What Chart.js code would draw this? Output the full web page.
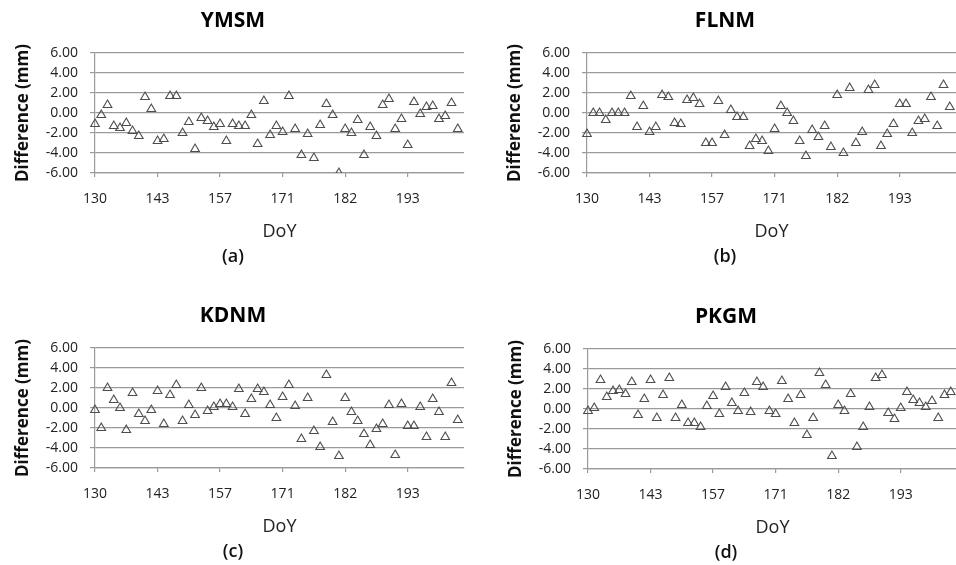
<!DOCTYPE html>
<html>
<head>
<meta charset="utf-8">
<script src="https://cdn.jsdelivr.net/npm/chart.js@4.4.1/dist/chart.umd.min.js"></script>
<style>
	html, body {margin: 0; padding: 0; background: #fff; overflow: hidden;}
	#wrap {position: relative; width: 956px; height: 565px; overflow: hidden;}
	#wrap canvas {position: absolute;}
</style>
</head>
<body>
<div id="wrap">
	<canvas id="chart-a" width="478" height="280" style="left: 0px; top: 0px;"></canvas>
	<canvas id="chart-b" width="478" height="280" style="left: 492px; top: 0px;"></canvas>
	<canvas id="chart-c" width="478" height="280" style="left: 0px; top: 295px;"></canvas>
	<canvas id="chart-d" width="478" height="280" style="left: 493px; top: 296px;"></canvas>
</div>
<script>
// Day of year for each category (days without data are skipped)
const doy = [
	130, 131, 132, 134, 135, 137, 138, 140, 141, 142,
	143, 144, 146, 147, 149, 150, 152, 153, 155, 156,
	157, 158, 160, 161, 163, 164, 166, 167, 169, 170,
	171, 172, 173, 174, 175, 176, 177, 178, 179, 181,
	182, 183, 184, 185, 186, 187, 188, 189, 190, 192,
	193, 194, 195, 196, 197, 198, 199, 200, 201, 202
];
const labeled_days = [130, 143, 157, 171, 182, 193];
const y_ticks = [-6, -4, -2, 0, 2, 4, 6];

// Differences (mm), one array per station
const ymsm = [
	-1.1, -0.2, 0.8, -1.3, -1.5, -1.0, -1.8, -2.3, 1.6, 0.4,
	-2.8, -2.6, 1.7, 1.7, -2.0, -0.9, -3.6, -0.5, -0.8, -1.4,
	-1.1, -2.8, -1.1, -1.3, -1.3, -0.2, -3.1, 1.2, -2.2, -1.3,
	-1.9, 1.7, -1.6, -4.2, -2.1, -4.5, -1.2, 0.9, -0.2, -6.0,
	-1.6, -2.0, -0.7, -4.2, -1.4, -2.3, 0.8, 1.4, -1.6, -0.6,
	-3.2, 1.1, -0.1, 0.6, 0.7, -0.6, -0.3, 1.0, -1.6
];
const flnm = [
	-2.1, 0.0, 0.0, -0.7, 0.0, 0.0, 0.0, 1.7, -1.4, 0.7,
	-1.9, -1.4, 1.8, 1.6, -1.0, -1.1, 1.3, 1.5, 0.9, -3.0,
	-3.0, 1.2, -2.2, 0.3, -0.4, -0.4, -3.3, -2.6, -2.8, -3.8,
	-1.6, 0.7, 0.0, -0.8, -2.8, -4.3, -1.7, -2.4, -1.3, -3.4,
	1.8, -4.0, 2.5, -3.0, -1.9, 2.3, 2.8, -3.3, -2.1, -1.1,
	0.9, 0.9, -2.0, -0.8, -0.6, 1.6, -1.3, 2.8, 0.6
];
const kdnm = [
	-0.2, -2.0, 2.0, 0.8, 0.0, -2.2, 1.5, -0.6, -1.3, -0.2,
	1.7, -1.6, 1.3, 2.3, -1.3, 0.3, -0.7, 2.0, -0.3, 0.1,
	0.4, 0.4, 0.1, 1.9, -0.6, 0.9, 1.9, 1.6, 0.3, -1.0,
	1.1, 2.3, 0.2, -3.1, 1.0, -2.3, -3.9, 3.3, -1.4, -4.8,
	1.0, -0.4, -1.3, -2.6, -3.7, -2.1, -1.6, 0.3, -4.7, 0.4,
	-1.8, -1.8, 0.1, -2.9, 0.9, -0.4, -2.9, 2.5, -1.2
];
const pkgm = [
	-0.2, 0.1, 2.9, 1.2, 1.8, 1.9, 1.5, 2.7, -0.6, 1.0,
	2.9, -0.9, 1.4, 3.1, -0.9, 0.4, -1.4, -1.4, -1.8, 0.3,
	1.3, -0.5, 2.2, 0.6, -0.2, 1.6, -0.3, 2.7, 2.2, -0.2,
	-0.5, 2.8, 1.0, -1.4, 1.4, -2.6, -0.9, 3.6, 2.4, -4.7,
	0.4, -0.2, 1.5, -3.8, -1.8, 0.2, 3.1, 3.4, -0.4, -1.0,
	0.1, 1.7, 0.9, 0.6, 0.2, 0.8, -0.9, 1.4, 1.7
];

const font_family = '"Open Sans", "Noto Sans", sans-serif';
const grid_color = '#9a9a9a';
const marker_color = '#4d4d4d';

function showChart (canvas_id, station, values, letter) {
	const ctx = document.getElementById (canvas_id);

	return new Chart (ctx, {
		type: 'line',
		data: {
			labels: doy,
			datasets: [{
				label: station,
				data: values,
				showLine: false,
				pointStyle: 'triangle',
				pointRadius: 5,
				pointBorderWidth: 1.1,
				pointBorderColor: marker_color,
				pointBackgroundColor: 'rgba(0, 0, 0, 0)'
			}]
		},
		options: {
			responsive: false,
			animation: false,
			layout: {
				padding: {left: 0, right: 12, top: 0, bottom: 0}
			},
			plugins: {
				legend: {display: false},
				tooltip: {enabled: false},
				title: {
					display: true,
					text: station,
					color: '#000',
					font: {family: font_family, size: 21, weight: 'bold', lineHeight: 1.2},
					padding: {top: 8.4, bottom: 19.4}
				},
				subtitle: {
					display: true,
					position: 'bottom',
					text: `(${letter})`,
					color: '#111',
					font: {family: font_family, size: 18, weight: '600', lineHeight: 1.2},
					padding: {top: 3.4, bottom: 12.2}
				}
			},
			scales: {
				x: {
					type: 'category',
					offset: false,
					afterFit: scale => {scale.height = 69.8;},
					border: {display: true, color: grid_color, width: 1.2},
					grid: {
						drawOnChartArea: false,
						drawTicks: true,
						tickLength: 4,
						lineWidth: 1.2,
						color: c => labeled_days.includes (doy[c.index]) ? grid_color : 'rgba(0, 0, 0, 0)'
					},
					ticks: {
						autoSkip: false,
						maxRotation: 0,
						padding: 14,
						color: '#222',
						font: {family: font_family, size: 14},
						callback: (value, index) => labeled_days.includes (doy[index]) ? `${doy[index]}` : ''
					},
					title: {
						display: true,
						text: 'DoY',
						color: '#222',
						font: {family: font_family, size: 18, lineHeight: 1.2},
						padding: {top: 10, bottom: 0}
					}
				},
				y: {
					min: -6,
					max: 6,
					afterFit: scale => {scale.width = 95;},
					afterBuildTicks: scale => {scale.ticks = y_ticks.map (v => ({value: v}));},
					border: {display: true, color: grid_color, width: 1.2},
					grid: {
						color: grid_color,
						lineWidth: 1.2,
						drawTicks: true,
						tickLength: 5
					},
					ticks: {
						padding: 12,
						color: '#222',
						font: {family: font_family, size: 14},
						callback: value => value.toFixed (2)
					},
					title: {
						display: true,
						text: 'Difference (mm)',
						color: '#111',
						font: {family: font_family, size: 17, weight: 'bold', lineHeight: 1.2},
						padding: {top: 13, bottom: 0}
					}
				}
			}
		}
	});
}

showChart ('chart-a', 'YMSM', ymsm, 'a');
showChart ('chart-b', 'FLNM', flnm, 'b');
showChart ('chart-c', 'KDNM', kdnm, 'c');
showChart ('chart-d', 'PKGM', pkgm, 'd');
</script>
</body>
</html>
